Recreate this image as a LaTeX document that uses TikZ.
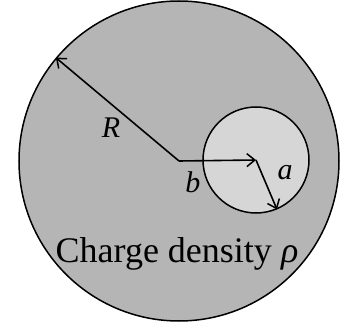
\documentclass[tikz,border=0pt]{standalone}
\usepackage{fontspec}
\setmainfont{Liberation Serif}
\usetikzlibrary{arrows.meta}
\definecolor{bigfill}{gray}{0.71}
\definecolor{smallfill}{gray}{0.84}
\tikzset{
  ring/.style={circle, draw=black, line width=1.5pt, inner sep=0pt},
  radius arrow/.style={-{Straight Barb[length=8pt,width=13pt,line width=1.5pt]}, line width=1.6pt},
  sym/.style={font=\fontsize{30}{32}\selectfont\itshape, inner sep=0pt}
}
\begin{document}
\begin{tikzpicture}[x=1pt,y=1pt]
\useasboundingbox (0,0) rectangle (341,325);
\node[ring, fill=bigfill, minimum size=320pt] (big) at (179,164) {};
\node[ring, fill=smallfill, minimum size=106pt] (small) at (256,165) {};
\draw[radius arrow] (big.center) -- (big.140);
\draw[radius arrow] (big.center) -- (small.center);
\draw[radius arrow] (small.center) -- (small.-67);
\node[sym] (lR) at (111,197) {R};
\node[sym] (lb) at (193,143) {b};
\node[sym] (la) at (285,152) {a};
\node[font=\fontsize{36}{38}\selectfont, inner sep=0pt] (lrho) at (177,71) {Charge density \textit{ρ}};
\end{tikzpicture}
\end{document}
